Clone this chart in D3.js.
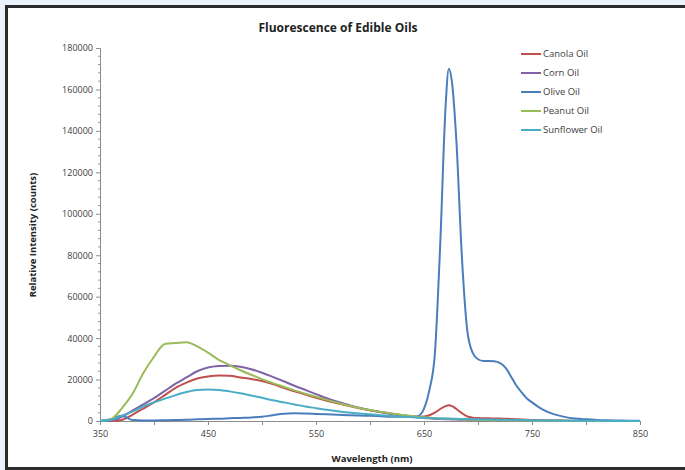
<!DOCTYPE html>
<meta charset="utf-8">
<script src="https://d3js.org/d3.v7.min.js"></script>
<style>
  html, body { margin: 0; background: #eaf2fb; overflow: hidden; }
  svg { display: block; }
  text { font-family: "Open Sans", "Liberation Sans", sans-serif; }
</style>
<body>
<script>
// Wavelengths (nm) shared by every series
var wavelengths = [350,360,370,380,390,400,410,420,430,440,450,460,470,480,490,500,510,520,530,540,550,560,570,580,590,600,610,620,630,640,
  645,650,655,660,665,670,673,676,680,685,690,695,700,705,710,715,720,725,730,735,740,745,750,
  760,770,780,790,800,810,820,830,840,850];

var canola = [0,0,500,3000,6000,9000,12500,16000,18500,20500,21500,22000,21800,21000,20300,19300,17800,16000,14300,12800,11200,9800,8500,7300,6200,5200,4300,3500,2800,2200,
  2000,2200,2800,4000,5800,7200,7600,7200,5800,3800,2200,1600,1400,1300,1300,1200,1200,1100,1000,900,750,600,500,
  350,250,180,120,80,60,40,30,20,10];

var corn = [0,200,2000,5000,8000,11000,14500,18000,21000,24000,25800,26500,26700,26200,25000,23300,21300,19200,17000,15000,13000,11000,9300,7800,6400,5200,4200,3400,2700,2100,
  1800,1500,1300,1100,950,850,800,750,700,620,550,500,450,400,360,330,300,270,240,210,190,170,150,
  120,90,70,50,40,30,20,15,10,5];

var olive = [0,800,2500,500,300,300,400,500,600,800,1000,1100,1300,1500,1700,2000,2800,3500,3700,3600,3400,3200,3000,2800,2600,2500,2300,2100,2000,2000,
  2500,6000,15000,32000,85000,152000,170000,163000,135000,80000,44000,33000,29800,29000,29000,28800,28000,26000,22000,17500,14000,11000,9000,
  5500,3300,2000,1200,800,500,350,250,150,100];

var peanut = [0,800,6000,13000,23000,31000,37200,37600,38000,36000,33000,29500,27000,24500,22300,20200,18300,16500,14800,13200,11700,10200,8800,7500,6300,5300,4400,3600,2900,2300,
  2000,1800,1600,1400,1250,1100,1050,1000,900,800,700,620,550,480,420,380,340,300,270,240,210,190,170,
  130,100,80,60,45,35,25,15,10,5];

var sunflower = [0,500,2500,4500,7000,9000,10800,12500,14000,15000,15200,15000,14300,13400,12300,11200,10000,9000,8000,7000,6200,5400,4700,4100,3600,3200,2800,2400,2100,1800,
  1600,1500,1400,1300,1250,1200,1150,1100,1050,1000,950,900,800,750,700,650,600,560,520,480,440,400,300,
  250,200,150,120,90,70,50,30,20,10];

var seriesNames = ["Canola Oil", "Corn Oil", "Olive Oil", "Peanut Oil", "Sunflower Oil"];
var seriesValues = [canola, corn, olive, peanut, sunflower];
var seriesColors = ["#c0504d", "#7f63a6", "#4a7ebb", "#9bbb59", "#4bacc6"];

var xTicks = [350, 450, 550, 650, 750, 850];
var yTicks = [0,20000,40000,60000,80000,100000,120000,140000,160000,180000];

var W = 685, H = 470;
var svg = d3.select("body").append("svg")
  .attr("width", W).attr("height", H);

// Chart frame (only left, top and bottom edges fall inside the picture)
svg.append("rect").attr("x", 5).attr("y", 5).attr("width", W).attr("height", 465)
  .attr("fill", "#2b2b2b");
svg.append("rect").attr("x", 8).attr("y", 8).attr("width", W).attr("height", 459)
  .attr("fill", "#ffffff");

var x = d3.scaleLinear().domain([350, 850]).range([100, 640]);
var y = d3.scaleLinear().domain([0, 180000]).range([421, 48]);

// Axes
var xAxis = svg.append("g")
  .attr("transform", "translate(0,421)")
  .call(d3.axisBottom(x).tickValues(d3.range(350, 851, 50)).tickSize(4)
    .tickFormat(function(d) { return xTicks.indexOf(d) >= 0 ? d : ""; }));
var yAxis = svg.append("g")
  .attr("transform", "translate(100,0)")
  .call(d3.axisLeft(y).tickValues(yTicks).tickSize(4).tickFormat(d3.format("d")));

// minor ticks on y axis
svg.append("g").selectAll("line")
  .data(d3.range(4000, 180000, 4000).filter(function(d) { return d % 20000 !== 0; }))
  .enter().append("line")
  .attr("x1", 98).attr("x2", 100)
  .attr("y1", function(d) { return y(d); }).attr("y2", function(d) { return y(d); })
  .attr("stroke", "#999");

[xAxis, yAxis].forEach(function(a) {
  a.select(".domain").attr("stroke", "#8c8c8c");
  a.selectAll(".tick line").attr("stroke", "#8c8c8c");
  a.selectAll(".tick text").attr("fill", "#404040").style("font-size", "9px");
});
xAxis.selectAll(".tick text").attr("dy", "1.05em");

// Lines
var line = d3.line()
  .x(function(d) { return x(d[0]); })
  .y(function(d) { return y(d[1]); })
  .curve(d3.curveMonotoneX);

seriesValues.forEach(function(vals, i) {
  svg.append("path")
    .datum(wavelengths.map(function(w, j) { return [w, vals[j]]; }))
    .attr("fill", "none")
    .attr("stroke", seriesColors[i])
    .attr("stroke-width", 2)
    .attr("stroke-linejoin", "round")
    .attr("d", line);
});

// Title and axis labels
svg.append("text").attr("x", 338).attr("y", 32).attr("text-anchor", "middle")
  .style("font-size", "12px").style("font-weight", "bold").attr("fill", "#222")
  .text("Fluorescence of Edible Oils");
svg.append("text").attr("x", 372).attr("y", 462).attr("text-anchor", "middle")
  .style("font-size", "9.5px").style("font-weight", "bold").attr("fill", "#222")
  .text("Wavelength (nm)");
svg.append("text").attr("transform", "translate(36,235) rotate(-90)").attr("text-anchor", "middle")
  .style("font-size", "9.5px").style("font-weight", "bold").attr("fill", "#222")
  .text("Relative Intensity (counts)");

// Legend
var legend = svg.append("g").selectAll("g")
  .data(seriesNames).enter().append("g")
  .attr("transform", function(d, i) { return "translate(521," + (54 + i * 19) + ")"; });
legend.append("line").attr("x1", 0).attr("x2", 20)
  .attr("stroke", function(d, i) { return seriesColors[i]; }).attr("stroke-width", 2);
legend.append("text").attr("x", 22).attr("dy", "0.35em")
  .style("font-size", "9.5px").attr("fill", "#404040")
  .text(function(d) { return d; });
</script>
</body>
